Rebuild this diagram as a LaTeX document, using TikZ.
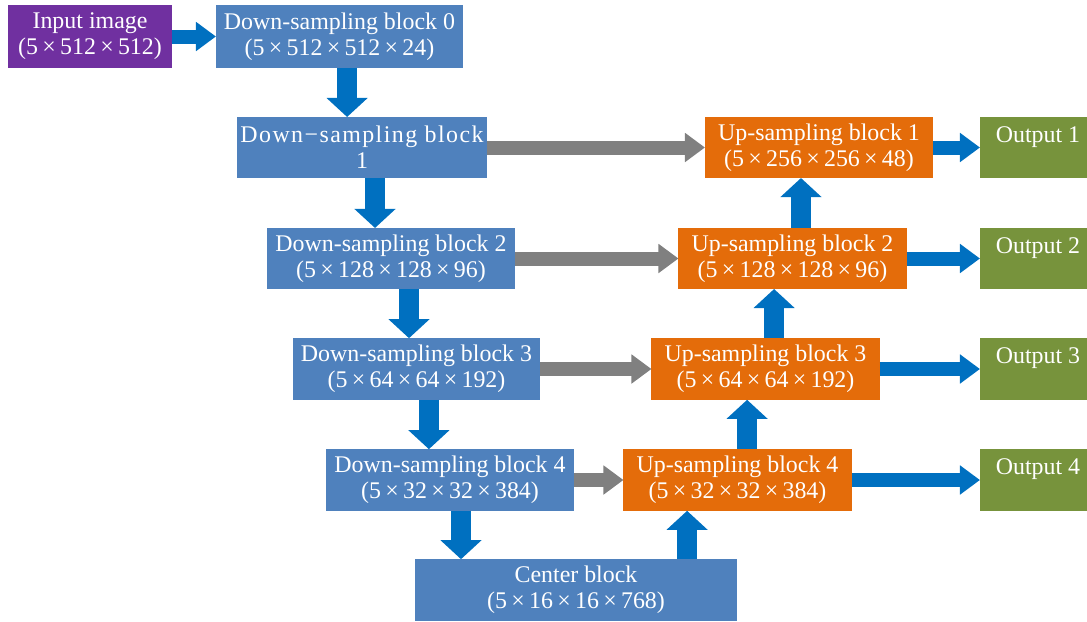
\documentclass[tikz,border=0pt]{standalone}
\usepackage{fontspec}
\setmainfont{Liberation Serif}
\usetikzlibrary{arrows.meta}
\definecolor{boxblue}{RGB}{79,129,189}
\definecolor{uporange}{RGB}{228,108,10}
\definecolor{outgreen}{RGB}{119,147,60}
\definecolor{inpurple}{RGB}{112,48,160}
\definecolor{arrowblue}{RGB}{0,112,192}
\definecolor{skipgray}{RGB}{128,128,128}
\newcommand\tms{\kern0.18em×\kern0.18em}
\tikzset{
  blk/.style={rectangle,inner sep=0pt,outer sep=0pt,align=center,text=white,
    font=\fontsize{17}{18.5}\selectfont,minimum height=1.54cm},
  downblk/.style={blk,fill=boxblue,minimum width=6.2cm},
  upblk/.style={blk,fill=uporange,minimum width=5.7cm},
  outblk/.style={blk,fill=outgreen,minimum width=2.9cm},
  varrow/.style={draw=arrowblue,line width=0.5cm,-{Triangle[length=0.475cm,width=1cm]}},
  harrow/.style={draw=arrowblue,line width=0.35cm,-{Triangle[length=0.5cm,width=0.7cm]}},
  skiparrow/.style={draw=skipgray,line width=0.35cm,-{Triangle[length=0.5cm,width=0.7cm]}}
}
\begin{document}
\begin{tikzpicture}[x=0.025cm,y=-0.025cm]
\clip (0,0) rectangle (1087,621);
% encoder side
\node[blk,fill=inpurple,minimum width=4.1cm,minimum height=1.575cm] (inp) at (90,36.5) {Input image\\(5\tms512\tms512)};
\node[downblk,minimum width=6.175cm,minimum height=1.575cm] (down0) at (339.5,36.5) {Down-sampling block 0\\(5\tms512\tms512\tms24)};
\node[downblk,minimum width=6.25cm,minimum height=1.525cm] (down1) at (362,147.5) {\addfontfeature{LetterSpace=6}Down−sampling block\\1};
\node[downblk,minimum height=1.525cm] (down2) at (391,258.5) {Down-sampling block 2\\(5\tms128\tms128\tms96)};
\node[downblk,minimum width=6.175cm] (down3) at (416.5,369) {Down-sampling block 3\\(5\tms64\tms64\tms192)};
\node[downblk] (down4) at (450,480) {Down-sampling block 4\\(5\tms32\tms32\tms384)};
\node[downblk,minimum width=8.05cm] (center) at (576,590) {Center block\\(5\tms16\tms16\tms768)};
% decoder side
\node[upblk,minimum height=1.525cm] (up1) at (819,147.5) {Up-sampling block 1\\(5\tms256\tms256\tms48)};
\node[upblk,minimum height=1.525cm] (up2) at (792.5,258.5) {Up-sampling block 2\\(5\tms128\tms128\tms96)};
\node[upblk] (up3) at (765.5,369) {Up-sampling block 3\\(5\tms64\tms64\tms192)};
\node[upblk] (up4) at (737.5,480) {Up-sampling block 4\\(5\tms32\tms32\tms384)};
\node[outblk,minimum height=1.525cm] (out1) at (1038,147.5) {Output 1\\\mbox{}};
\node[outblk,minimum height=1.525cm] (out2) at (1038,258.5) {Output 2\\\mbox{}};
\node[outblk] (out3) at (1038,369) {Output 3\\\mbox{}};
\node[outblk] (out4) at (1038,480) {Output 4\\\mbox{}};
% arrows
\draw[harrow] (inp) -- (down0);
\draw[varrow] ([xshift=0.19cm]down0.south) -- ([xshift=0.19cm]down0.south |- down1.north);
\draw[varrow] ([xshift=0.325cm]down1.south) -- ([xshift=0.325cm]down1.south |- down2.north);
\draw[varrow] ([xshift=0.45cm]down2.south) -- ([xshift=0.45cm]down2.south |- down3.north);
\draw[varrow] ([xshift=0.31cm]down3.south) -- ([xshift=0.31cm]down3.south |- down4.north);
\draw[varrow] ([xshift=0.275cm]down4.south) -- ([xshift=0.275cm]down4.south |- center.north);
\draw[varrow] ([xshift=-1.26cm]up4.south |- center.north) -- ([xshift=-1.26cm]up4.south);
\draw[varrow] ([xshift=-0.46cm]up3.south |- up4.north) -- ([xshift=-0.46cm]up3.south);
\draw[varrow] ([xshift=-0.46cm]up2.south |- up3.north) -- ([xshift=-0.46cm]up2.south);
\draw[varrow] ([xshift=-0.45cm]up1.south |- up2.north) -- ([xshift=-0.45cm]up1.south);
\draw[skiparrow] (down1) -- (up1);
\draw[skiparrow] (down2) -- (up2);
\draw[skiparrow] (down3) -- (up3);
\draw[skiparrow] (down4) -- (up4);
\draw[harrow] (up1) -- (out1);
\draw[harrow] (up2) -- (out2);
\draw[harrow] (up3) -- (out3);
\draw[harrow] (up4) -- (out4);
\end{tikzpicture}
\end{document}
